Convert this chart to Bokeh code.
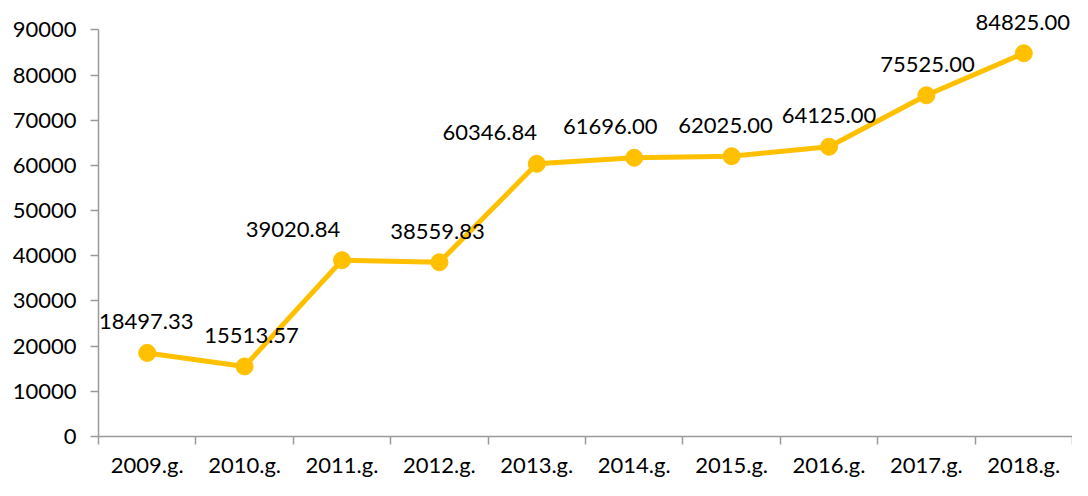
from bokeh.plotting import figure
from bokeh.models import ColumnDataSource, LabelSet, FixedTicker, Range1d, CustomJSTickFormatter, NumeralTickFormatter
from bokeh.core.properties import value
from bokeh.embed import file_html
from bokeh.resources import INLINE

years = ["2009.g.", "2010.g.", "2011.g.", "2012.g.", "2013.g.",
         "2014.g.", "2015.g.", "2016.g.", "2017.g.", "2018.g."]
values = [18497.33, 15513.57, 39020.84, 38559.83, 60346.84,
          61696.00, 62025.00, 64125.00, 75525.00, 84825.00]
y_ticks = [0, 10000, 20000, 30000, 40000, 50000, 60000, 70000, 80000, 90000]

# label horizontal nudges (px), style only
label_dx = [-1, 7, -49, -2, -47, -24, -6, 0, 1, -1]

FONT = "Lato"
GOLD = "#FFC000"
AXIS = "#9a9a9a"

xs = [i + 0.5 for i in range(len(years))]
labels = [f"{v:.2f}" for v in values]
src = ColumnDataSource(dict(x=xs, y=values, label=labels, dx=label_dx))

p = figure(width=1072, height=480,
           x_range=Range1d(0, len(years)), y_range=Range1d(0, 96500),
           output_backend="svg", toolbar_location=None,
           min_border_left=98, min_border_right=0,
           min_border_top=0, min_border_bottom=40)
p.outline_line_color = None
p.xgrid.visible = False
p.ygrid.visible = False
p.background_fill_color = "white"
p.border_fill_color = "white"

p.line("x", "y", source=src, line_color=GOLD, line_width=5)
p.scatter("x", "y", source=src, size=17, fill_color=GOLD, line_color=GOLD)

lbl = LabelSet(x="x", y="y", text="label", source=src,
               x_offset="dx", y_offset=31,
               text_align="center", text_baseline="middle",
               text_font=value(FONT), text_font_size=value("22px"),
               text_color="#000000")
p.add_layout(lbl)

xa = p.xaxis[0]
xa.ticker = FixedTicker(ticks=xs, minor_ticks=list(range(len(years) + 1)))
xa.formatter = CustomJSTickFormatter(args=dict(names=years),
                                     code="return names[Math.floor(tick)] || '';")
xa.major_tick_out = 0
xa.major_tick_in = 0
xa.minor_tick_out = 8
xa.minor_tick_in = 0
xa.minor_tick_line_color = AXIS
xa.minor_tick_line_width = 1.5
xa.axis_line_color = AXIS
xa.axis_line_width = 1.5
xa.major_label_standoff = 6
xa.axis_label_standoff = 0
xa.major_label_text_font = FONT
xa.major_label_text_font_size = "22px"
xa.major_label_text_color = "#000000"

ya = p.yaxis[0]
ya.ticker = FixedTicker(ticks=y_ticks)
ya.formatter = NumeralTickFormatter(format="0")
ya.bounds = (0, 90000)
ya.major_tick_out = 8
ya.major_tick_in = 0
ya.major_tick_line_color = AXIS
ya.major_tick_line_width = 1.5
ya.minor_tick_line_color = None
ya.axis_line_color = AXIS
ya.axis_line_width = 1.5
ya.major_label_standoff = 14
ya.major_label_text_font = FONT
ya.major_label_text_font_size = "22px"
ya.major_label_text_color = "#000000"

open("out.html", "w").write(file_html(p, INLINE))
